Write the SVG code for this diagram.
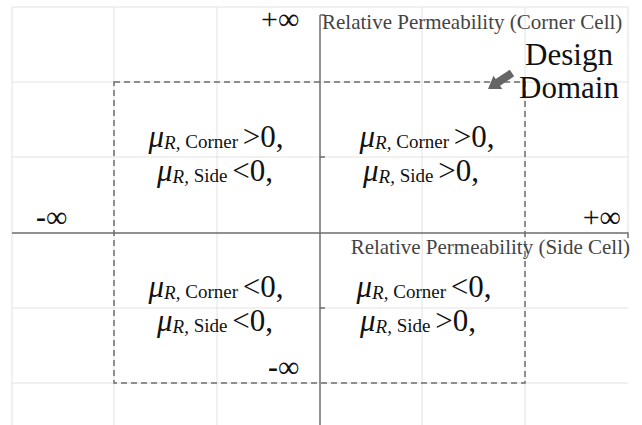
<svg xmlns="http://www.w3.org/2000/svg" width="642" height="425" viewBox="0 0 642 425">
<style>
.grid{stroke:#e2e2e2;stroke-width:1;fill:none}
.axis{stroke:#6e6e6e;stroke-width:1.5;fill:none}
.dash{stroke:#6e6e6e;stroke-width:1.5;fill:none;stroke-dasharray:6 4}
text{font-family:"Liberation Serif","Times New Roman",serif}
.lbl{font-size:21px;fill:#444}
.inf{font-size:30px;fill:#111}
.dd{font-size:31px;fill:#111}
.q{font-size:31px;fill:#111}
.mu{font-style:italic}
.sub{font-size:19px}
.it{font-style:italic}
</style>
<rect width="642" height="425" fill="#fff"/>
<g id="grid">
<path class="grid" d="M12 7H628M12 82H628M12 157H628M12 308H628M12 383H628M12 7V425M114 7V425M217 7V425M422 7V425M525 7V425M628 7V233"/>
</g>
<g id="axes">
<path class="axis" d="M320 15V425M320 15H325M12 233H628V238M320 157H325M320 308H325"/>
</g>
<g id="design-domain">
<rect class="dash" x="114" y="82" width="411" height="301"/>
</g>
<g id="labels">
<text class="lbl" x="322" y="29">Relative Permeability (Corner Cell)</text>
<text class="lbl" x="630" y="254" text-anchor="end">Relative Permeability (Side Cell)</text>
<text class="inf" x="261" y="29">+∞</text>
<text class="inf" x="621" y="227" text-anchor="end">+∞</text>
<text class="inf" x="36" y="227"><tspan font-weight="bold">-</tspan>∞</text>
<text class="inf" x="268" y="377"><tspan font-weight="bold">-</tspan>∞</text>
<text class="dd" x="569" y="65" text-anchor="middle">Design</text>
<text class="dd" x="569" y="98" text-anchor="middle">Domain</text>
</g>
<g id="quadrant-tl">
<text class="q" x="216" y="147" text-anchor="middle"><tspan class="mu">μ</tspan><tspan class="sub it" dy="2">R,</tspan><tspan class="sub" dy="-1"> Corner </tspan><tspan dy="-1">&gt;0,</tspan></text>
<text class="q" x="215" y="181" text-anchor="middle"><tspan class="mu">μ</tspan><tspan class="sub it" dy="2">R,</tspan><tspan class="sub" dy="-1"> Side </tspan><tspan dy="-1">&lt;0,</tspan></text>
</g>
<g id="quadrant-tr">
<text class="q" x="427" y="147" text-anchor="middle"><tspan class="mu">μ</tspan><tspan class="sub it" dy="2">R,</tspan><tspan class="sub" dy="-1"> Corner </tspan><tspan dy="-1">&gt;0,</tspan></text>
<text class="q" x="421" y="181" text-anchor="middle"><tspan class="mu">μ</tspan><tspan class="sub it" dy="2">R,</tspan><tspan class="sub" dy="-1"> Side </tspan><tspan dy="-1">&gt;0,</tspan></text>
</g>
<g id="quadrant-bl">
<text class="q" x="216" y="297" text-anchor="middle"><tspan class="mu">μ</tspan><tspan class="sub it" dy="2">R,</tspan><tspan class="sub" dy="-1"> Corner </tspan><tspan dy="-1">&lt;0,</tspan></text>
<text class="q" x="215" y="331" text-anchor="middle"><tspan class="mu">μ</tspan><tspan class="sub it" dy="2">R,</tspan><tspan class="sub" dy="-1"> Side </tspan><tspan dy="-1">&lt;0,</tspan></text>
</g>
<g id="quadrant-br">
<text class="q" x="424" y="297" text-anchor="middle"><tspan class="mu">μ</tspan><tspan class="sub it" dy="2">R,</tspan><tspan class="sub" dy="-1"> Corner </tspan><tspan dy="-1">&lt;0,</tspan></text>
<text class="q" x="418" y="331" text-anchor="middle"><tspan class="mu">μ</tspan><tspan class="sub it" dy="2">R,</tspan><tspan class="sub" dy="-1"> Side </tspan><tspan dy="-1">&gt;0,</tspan></text>
</g>
<g id="connectors">
<polygon points="488,89 502.3,89 500.1,85.7 514.2,76.3 509.8,69.7 495.7,79.1 493.5,75.8" fill="#666"/>
</g>
</svg>
